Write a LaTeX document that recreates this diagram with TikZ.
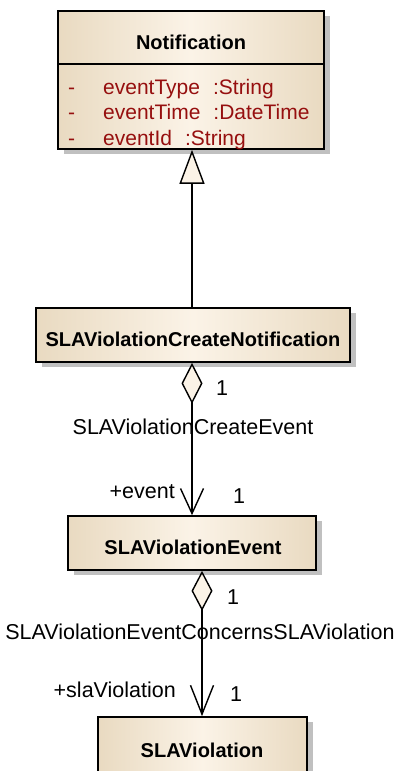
\documentclass[tikz,border=0pt]{standalone}
\usepackage{fontspec}
\setmainfont{Liberation Sans}
\usetikzlibrary{arrows.meta,shadows,calc}
\definecolor{tanedge}{RGB}{233,218,193}
\definecolor{tanmid}{RGB}{251,243,231}
\definecolor{attrred}{RGB}{150,15,15}
\definecolor{shadowgray}{RGB}{192,192,192}
\definecolor{headfill}{RGB}{251,243,231}
\tikzset{
  classbox/.style={draw=black, line width=1.7pt, left color=tanedge, right color=tanedge, middle color=tanmid,
    general shadow={shadow xshift=6pt, shadow yshift=-5pt, fill=shadowgray},
    inner sep=0pt},
  ctitle/.style={inner sep=0pt, font=\fontsize{20}{23}\selectfont\bfseries},
  attr/.style={anchor=base west, text=attrred, inner sep=0pt, font=\fontsize{21}{24}\selectfont},
  lbl/.style={inner sep=0pt, font=\fontsize{21.5}{25}\selectfont},
  conn/.style={line width=1.4pt},
}
\begin{document}
\begin{tikzpicture}[x=1pt,y=-1pt]
\useasboundingbox (0,0) rectangle (399,771);
\clip (0,0) rectangle (399,771);
% Notification
\node[classbox, minimum width=266pt, minimum height=138pt] (notif) at (191,80) {};
\draw[line width=1.7pt] (notif.west |- 0,64) -- (notif.east |- 0,64);
\node[ctitle] (ntitle) at (191,42) {Notification};
\node[attr] (m1) at (68,94) {-};
\node[attr] (a1) at (103,94) {eventType\hspace{13pt}:String};
\node[attr] (m2) at (68,119.5) {-};
\node[attr] (a2) at (103,119.5) {eventTime\hspace{13pt}:DateTime};
\node[attr] (m3) at (68,145) {-};
\node[attr] (a3) at (103,145) {eventId\hspace{13pt}:String};
% SLAViolationCreateNotification
\node[classbox, minimum width=314pt, minimum height=54pt] (cnote) at (193,335) {};
\node[ctitle] (cntitle) at (193,339) {SLAViolationCreateNotification};
% SLAViolationEvent
\node[classbox, minimum width=248pt, minimum height=54pt] (evt) at (192,543) {};
\node[ctitle] (etitle) at (193,547) {SLAViolationEvent};
% SLAViolation
\node[classbox, minimum width=209pt, minimum height=80pt] (viol) at (202.5,757) {};
\node[ctitle] (vtitle) at (202,750) {SLAViolation};
% generalization
\draw[conn, {Triangle[open, length=34pt, width=25pt, fill=headfill, line width=1.4pt]}-] (notif.south -| 192,0) -- (cnote.north -| 192,0);
% association 1
\draw[conn, {Diamond[open, length=41pt, width=21pt, fill=headfill, line width=1.4pt]}-{Straight Barb[length=25pt, width=23pt, line width=1.4pt]}]
  (cnote.south -| 192,0) -- (evt.north -| 192,0);
\node[lbl] (c1a) at (222,388) {1};
\node[lbl] (c1l) at (193,427) {SLAViolationCreateEvent};
\node[lbl, anchor=east] (c1r) at (175,492) {+event};
\node[lbl] (c1b) at (239,496) {1};
% association 2
\draw[conn, {Diamond[open, length=40pt, width=21pt, fill=headfill, line width=1.4pt]}-{Straight Barb[length=29pt, width=23pt, line width=1.4pt]}]
  (evt.south -| 202,0) -- (viol.north -| 202,0);
\node[lbl] (c2a) at (233,597) {1};
\node[lbl] (c2l) at (200,632) {SLAViolationEventConcernsSLAViolation};
\node[lbl, anchor=east] (c2r) at (176,690) {+slaViolation};
\node[lbl] (c2b) at (236,694) {1};
\end{tikzpicture}
\end{document}
